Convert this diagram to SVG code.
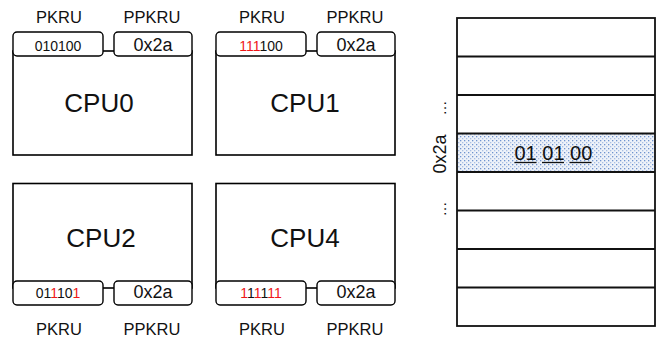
<svg xmlns="http://www.w3.org/2000/svg" width="658" height="341" viewBox="0 0 658 341">
  <defs>
    <pattern id="dots" width="4" height="4" patternUnits="userSpaceOnUse">
      <rect width="4" height="4" fill="#eef2f9"/>
      <rect x="0" y="0" width="1.3" height="1.3" fill="#6f93cf"/>
      <rect x="2" y="2" width="1.3" height="1.3" fill="#a9bfe3"/>
    </pattern>
  </defs>
  <style>
    text { font-family: "Liberation Sans", Arial, sans-serif; fill: #111; }
    .lbl { font-size: 16.5px; text-anchor: middle; }
    .cpu { font-size: 26px; text-anchor: middle; }
    .bits { font-size: 14px; text-anchor: middle; }
    .hex { font-size: 18px; text-anchor: middle; }
    .r { fill: #f01818; }
    .body { fill: #fff; stroke: #000; stroke-width: 1.6; }
    .reg { fill: #fff; stroke: #000; stroke-width: 1.4; }
    .row { fill: none; stroke: #111; stroke-width: 1.8; }
    .ul { stroke: #111; stroke-width: 1.3; }
    .dots { font-size: 15px; text-anchor: middle; }
  </style>

  <!-- CPU0 -->
  <g id="cpu0">
    <text class="lbl" x="59" y="23">PKRU</text>
    <text class="lbl" x="152" y="23">PPKRU</text>
    <rect class="body" x="13" y="51" width="179" height="104"/>
    <rect class="reg" x="13" y="32" width="90" height="24" rx="4"/>
    <rect class="reg" x="114" y="32" width="78" height="24" rx="4"/>
    <text class="bits" x="58" y="51">010100</text>
    <text class="hex" x="153" y="51">0x2a</text>
    <text class="cpu" x="99" y="112">CPU0</text>
  </g>

  <!-- CPU1 -->
  <g id="cpu1">
    <text class="lbl" x="262" y="23">PKRU</text>
    <text class="lbl" x="355" y="23">PPKRU</text>
    <rect class="body" x="216" y="51" width="179" height="104"/>
    <rect class="reg" x="216" y="32" width="90" height="24" rx="4"/>
    <rect class="reg" x="317" y="32" width="78" height="24" rx="4"/>
    <text class="bits" x="261" y="51"><tspan class="r">111</tspan>100</text>
    <text class="hex" x="356" y="51">0x2a</text>
    <text class="cpu" x="305" y="112">CPU1</text>
  </g>

  <!-- CPU2 -->
  <g id="cpu2">
    <rect class="body" x="13" y="183.5" width="179" height="104.5"/>
    <rect class="reg" x="13" y="281" width="90" height="24" rx="4"/>
    <rect class="reg" x="114" y="281" width="78" height="24" rx="4"/>
    <text class="bits" x="58" y="298">01<tspan class="r">1</tspan>10<tspan class="r">1</tspan></text>
    <text class="hex" x="153" y="298">0x2a</text>
    <text class="cpu" x="101" y="247">CPU2</text>
    <text class="lbl" x="59" y="335">PKRU</text>
    <text class="lbl" x="152" y="335">PPKRU</text>
  </g>

  <!-- CPU4 -->
  <g id="cpu4">
    <rect class="body" x="216" y="183.5" width="179" height="104.5"/>
    <rect class="reg" x="216" y="281" width="90" height="24" rx="4"/>
    <rect class="reg" x="317" y="281" width="78" height="24" rx="4"/>
    <text class="bits" x="261" y="298"><tspan class="r">1</tspan>1<tspan class="r">1</tspan>1<tspan class="r">11</tspan></text>
    <text class="hex" x="356" y="298">0x2a</text>
    <text class="cpu" x="305" y="247">CPU4</text>
    <text class="lbl" x="262" y="335">PKRU</text>
    <text class="lbl" x="355" y="335">PPKRU</text>
  </g>

  <!-- key table -->
  <g id="table">
    <rect x="457" y="133.5" width="198" height="38.5" fill="url(#dots)"/>
    <rect class="row" x="457" y="18" width="198" height="308"/>
    <line class="row" x1="457" y1="56.5" x2="655" y2="56.5"/>
    <line class="row" x1="457" y1="95" x2="655" y2="95"/>
    <line class="row" x1="457" y1="133.5" x2="655" y2="133.5"/>
    <line class="row" x1="457" y1="172" x2="655" y2="172"/>
    <line class="row" x1="457" y1="210.5" x2="655" y2="210.5"/>
    <line class="row" x1="457" y1="249" x2="655" y2="249"/>
    <line class="row" x1="457" y1="287.5" x2="655" y2="287.5"/>
    <text x="514.5" y="160" style="font-size:20px">01 01 00</text>
    <line class="ul" x1="514.5" y1="162.5" x2="536.5" y2="162.5"/>
    <line class="ul" x1="542" y1="162.5" x2="564" y2="162.5"/>
    <line class="ul" x1="569.5" y1="162.5" x2="591.5" y2="162.5"/>
    <text class="hex" transform="translate(446 154) rotate(-90)">0x2a</text>
    <text class="dots" transform="translate(446 108) rotate(-90)">…</text>
    <text class="dots" transform="translate(446 209) rotate(-90)">…</text>
  </g>
</svg>
